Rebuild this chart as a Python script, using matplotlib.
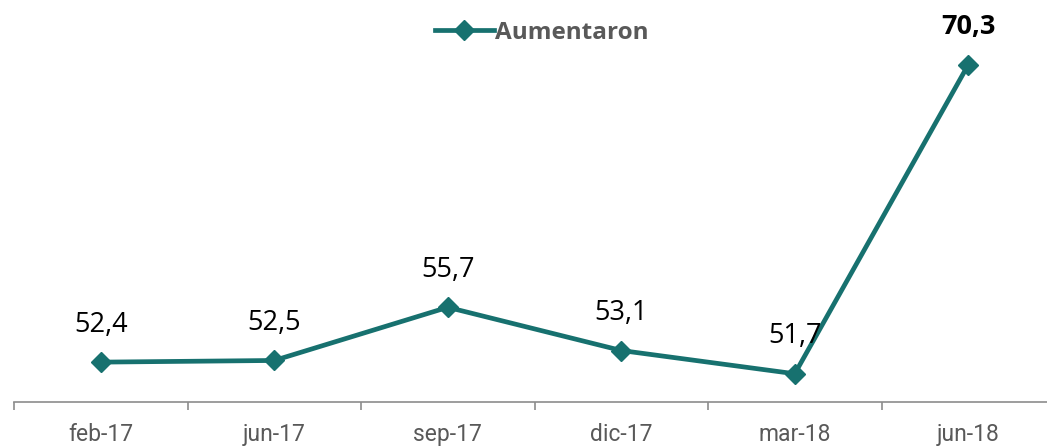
import matplotlib
matplotlib.use("Agg")
import matplotlib.pyplot as plt
from matplotlib import font_manager

categories = ["feb-17", "jun-17", "sep-17", "dic-17", "mar-18", "jun-18"]
aumentaron = [52.4, 52.5, 55.7, 53.1, 51.7, 70.3]
series_name = "Aumentaron"

teal = "#17716F"
names = {f.name for f in font_manager.fontManager.ttflist}
tick_font = "Liberation Sans Narrow" if "Liberation Sans Narrow" in names else "Roboto"
label_font = "Open Sans"

fig = plt.figure(figsize=(10.47, 4.47), dpi=100)
ax = fig.add_axes([14/1047, 45/447, 1041/1047, 402/447])
x = list(range(len(categories)))
line, = ax.plot(x, aumentaron, color=teal, lw=3.4, marker="D", ms=10, label=series_name,
                solid_joinstyle="miter", clip_on=False)
ax.set_xlim(-0.5, 5.5)
ax.set_ylim(50, 74.2)

for i, v in enumerate(aumentaron):
    last = i == len(aumentaron) - 1
    ax.annotate(f"{v:.1f}".replace(".", ","), (i, v), xytext=(0, 27), textcoords="offset points",
                ha="center", va="center", fontsize=19.5, family=label_font,
                fontweight="bold" if last else "normal", color="black")

for s in ["top", "right", "left"]:
    ax.spines[s].set_visible(False)
ax.spines["bottom"].set_color("#8c8c8c")
ax.spines["bottom"].set_linewidth(1.2)
ax.set_yticks([])
ax.set_xticks([i - 0.5 for i in range(len(categories))], minor=False)
ax.set_xticklabels([])
ax.tick_params(axis="x", which="major", length=6, width=1.2, color="#8c8c8c", direction="out")
ax.set_xticks(x, minor=True)
ax.set_xticklabels(categories, minor=True, fontsize=16.5, family=tick_font, color="#595959")
ax.tick_params(axis="x", which="minor", length=0, pad=15)

leg = ax.legend(handles=[line], loc="upper center", bbox_to_anchor=(0.507, 0.985), frameon=False,
                prop={"family": label_font, "weight": "bold", "size": 17.5}, labelcolor="#595959",
                handlelength=2.4, handletextpad=0.05, borderaxespad=0.2)
fig.savefig("out.png", dpi=100)
